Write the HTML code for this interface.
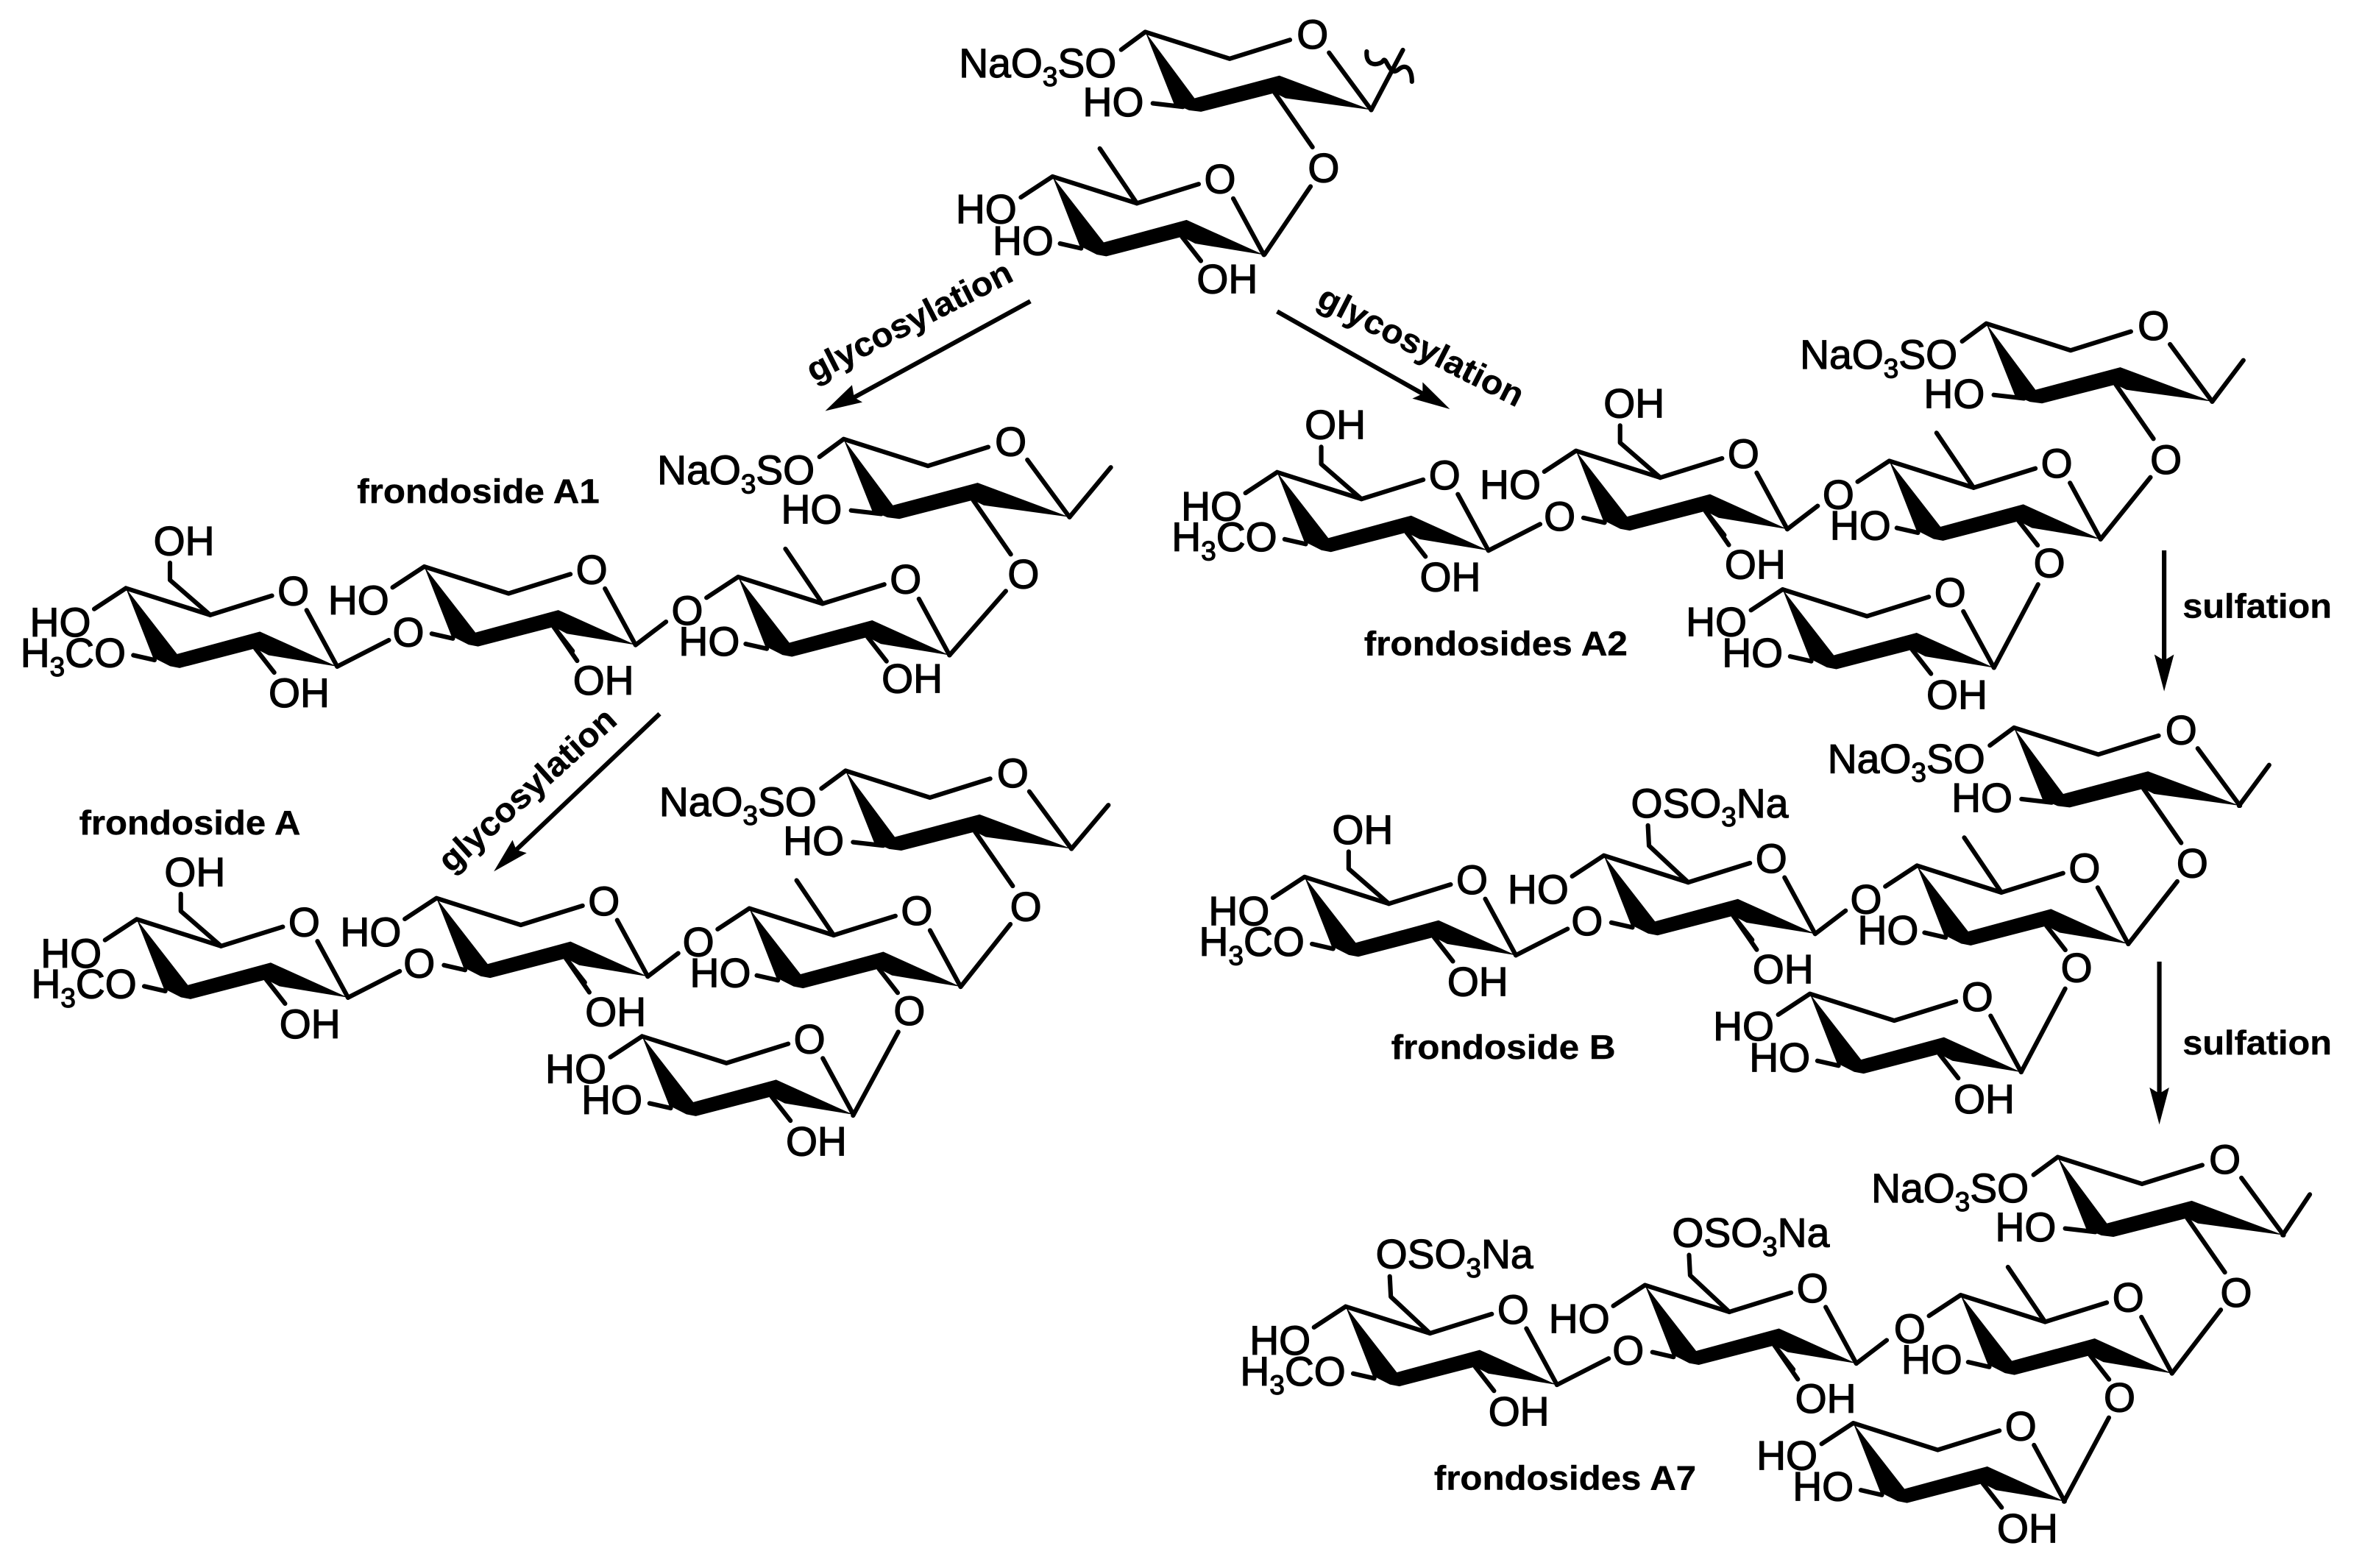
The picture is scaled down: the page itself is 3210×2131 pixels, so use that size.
<!DOCTYPE html>
<html><head><meta charset="utf-8"><style>
html,body{margin:0;padding:0;background:#fff}
svg{display:block}
text{font-family:"Liberation Sans",sans-serif;font-size:27px;fill:#000;stroke:#000;stroke-width:.6px}
.m{text-anchor:middle}.e{text-anchor:end}
.b{font-weight:bold;font-size:22.5px;stroke-width:.2px}
.l{fill:none;stroke:#000;stroke-width:3;stroke-linecap:round;stroke-linejoin:round}
.a{fill:none;stroke:#000;stroke-width:3}
.s{font-size:18px}
</style></head><body>
<svg xmlns="http://www.w3.org/2000/svg" width="3210" height="2131" viewBox="0 0 1568 1041">
<rect width="1568" height="1041" fill="#fff"/>
<defs>
<g id="L"><path d="M0,0L32.7,44 89,29 150,51.8 93,44 86,40.5 37,53 29,52 19,47.7Z"/><path class="l" d="M0,0L56,17.8 96,5.3M122,13.8L150,51.8M0,0L-16,11.8M5,47.4L25,49.7M86,40.5L111,76.5"/></g>
<g id="S"><path d="M0,0L34,43.7 89,28.8 140.3,52 94.7,44.5 86,40 35.7,53 29.4,51.8 18,46Z"/><path class="l" d="M0,0L56,17.8 97,5M120,14.6L140.3,52M0,0L-21,13.8M5,44.5L19,47.7M86,40L98.5,56"/></g>
</defs>

<!-- Top -->
<g transform="translate(760.3,21.2)"><use href="#L"/><path class="l" d="M150,51.8L171,12M147,13C146,24 156,22 158,19S162,30 168,25 177,26 177,33"/>
<text class="e" x="-19.2" y="30">NaO<tspan class="s" dy="6">3</tspan><tspan dy="-6">SO</tspan></text><text class="e" x="-1" y="56">HO</text><text class="m" x="111" y="11">O</text><text class="m" x="118.4" y="99.7">O</text></g>
<path class="l" d="M870,123.8L839.4,169"/>
<g transform="translate(698.7,117.2)"><use href="#S"/><path class="l" d="M56,17.8L31.4,-18.6"/><text class="m" x="111.2" y="11">O</text><text class="m" x="-44" y="31">HO</text><text class="m" x="-19.5" y="52">HO</text><text class="m" x="116" y="77.5">OH</text></g>

<!-- Frondoside A1 -->
<g transform="translate(83.5,390.5)"><use href="#S"/><path class="l" d="M56,17.8L29.3,-5.4 29.3,-16.8M140.3,52L174.6,34.5"/><text class="m" x="111.2" y="11.4">O</text><text class="m" x="-43.5" y="32">HO</text><text class="e" x="0" y="52.4">H<tspan class="s" dy="6">3</tspan><tspan dy="-6">CO</tspan></text><text class="m" x="38.6" y="-22">OH</text><text class="m" x="115" y="79">OH</text><text class="m" x="187.6" y="38.6">O</text></g>
<g transform="translate(281.6,376.2)"><use href="#S"/><path class="l" d="M140.3,52L160.5,36.6M86,40L101.5,62.5"/><text class="m" x="111.2" y="11.4">O</text><text class="m" x="-43.6" y="31.8">HO</text><text class="m" x="119" y="85">OH</text></g>
<g transform="translate(490,383)"><use href="#S"/><path class="l" d="M56,17.8L31.4,-18.6"/><text class="m" x="111.2" y="11">O</text><text class="m" x="-33.8" y="31.7">O</text><text class="m" x="-19.2" y="52.3">HO</text><text class="m" x="115.5" y="77">OH</text></g>
<g transform="translate(560,291.5)"><use href="#L"/><path class="l" d="M150,51.8L177.4,18.8"/><text class="e" x="-19.2" y="30">NaO<tspan class="s" dy="6">3</tspan><tspan dy="-6">SO</tspan></text><text class="e" x="-1" y="56">HO</text><text class="m" x="111" y="11">O</text><text class="m" x="119.4" y="99">O</text></g>
<path class="l" d="M667.7,392.4L630.3,435"/>
<text class="b" x="237" y="334" textLength="161" lengthAdjust="spacingAndGlyphs">frondoside A1</text>

<!-- Frondoside A -->
<g transform="translate(90.7,610.3)"><use href="#S"/><path class="l" d="M56,17.8L29.3,-5.4 29.3,-16.8M140.3,52L174.6,34.5"/><text class="m" x="111.2" y="11.4">O</text><text class="m" x="-43.5" y="32">HO</text><text class="e" x="0" y="52.4">H<tspan class="s" dy="6">3</tspan><tspan dy="-6">CO</tspan></text><text class="m" x="38.6" y="-22">OH</text><text class="m" x="115" y="79">OH</text><text class="m" x="187.6" y="38.6">O</text></g>
<g transform="translate(289.7,596.3)"><use href="#S"/><path class="l" d="M140.3,52L160.5,36.6M86,40L101.5,62.5"/><text class="m" x="111.2" y="11.4">O</text><text class="m" x="-43.6" y="31.8">HO</text><text class="m" x="119" y="85">OH</text></g>
<g transform="translate(497.4,603.1)"><use href="#S"/><path class="l" d="M56,17.8L31.4,-18.6"/><text class="m" x="111.2" y="11">O</text><text class="m" x="-33.8" y="31.7">O</text><text class="m" x="-19.2" y="52.3">HO</text><text class="m" x="106.3" y="77.3">O</text></g>
<g transform="translate(561.3,511.7)"><use href="#L"/><path class="l" d="M150,51.8L174.5,22.8"/><text class="e" x="-19.2" y="30">NaO<tspan class="s" dy="6">3</tspan><tspan dy="-6">SO</tspan></text><text class="e" x="-1" y="56">HO</text><text class="m" x="111" y="11">O</text><text class="m" x="119.7" y="99.6">O</text></g>
<path class="l" d="M670.7,613.6L637.7,655.1M596.3,685.1L566.3,740.6"/>
<g transform="translate(426.2,688)"><use href="#S"/><text class="m" x="111.2" y="11.4">O</text><text class="m" x="-44" y="31">HO</text><text class="m" x="-20" y="51.6">HO</text><text class="m" x="115.7" y="79.3">OH</text></g>
<text class="b" x="52.5" y="554" textLength="147" lengthAdjust="spacingAndGlyphs">frondoside A</text>

<!-- Frondosides A2 -->
<g transform="translate(847.8,313.5)"><use href="#S"/><path class="l" d="M56,17.8L29.3,-5.4 29.3,-16.8M140.3,52L174.6,34.5"/><text class="m" x="111.2" y="11.4">O</text><text class="m" x="-43.5" y="32">HO</text><text class="e" x="0" y="52.4">H<tspan class="s" dy="6">3</tspan><tspan dy="-6">CO</tspan></text><text class="m" x="38.6" y="-22">OH</text><text class="m" x="115" y="79">OH</text><text class="m" x="187.6" y="38.6">O</text></g>
<g transform="translate(1046.2,299.3)"><use href="#S"/><path class="l" d="M56,17.8L29.3,-5.4 29.3,-16.8M140.3,52L160.5,36.6M86,40L101.5,62.5"/><text class="m" x="111.2" y="11.4">O</text><text class="m" x="-43.6" y="31.8">HO</text><text class="m" x="38.6" y="-22">OH</text><text class="m" x="119" y="85">OH</text></g>
<g transform="translate(1254.2,306)"><use href="#S"/><path class="l" d="M56,17.8L31.4,-18.6"/><text class="m" x="111.2" y="11">O</text><text class="m" x="-33.8" y="31.7">O</text><text class="m" x="-19.2" y="52.3">HO</text><text class="m" x="106.3" y="77.3">O</text></g>
<g transform="translate(1318.6,214.8)"><use href="#L"/><path class="l" d="M150,51.8L170.7,24.4"/><text class="e" x="-19.2" y="30">NaO<tspan class="s" dy="6">3</tspan><tspan dy="-6">SO</tspan></text><text class="e" x="-1" y="56">HO</text><text class="m" x="111" y="11">O</text><text class="m" x="119.3" y="99.7">O</text></g>
<path class="l" d="M1427.6,316.9L1394.5,358M1353,388L1323.7,443.3"/>
<g transform="translate(1183.4,391.3)"><use href="#S"/><text class="m" x="111.2" y="11.4">O</text><text class="m" x="-44" y="31">HO</text><text class="m" x="-20" y="51.6">HO</text><text class="m" x="115.7" y="79.3">OH</text></g>
<text class="b" x="905.5" y="435" textLength="175" lengthAdjust="spacingAndGlyphs">frondosides A2</text>

<!-- Frondoside B -->
<g transform="translate(866,582.2)"><use href="#S"/><path class="l" d="M56,17.8L29.3,-5.4 29.3,-16.8M140.3,52L174.6,34.5"/><text class="m" x="111.2" y="11.4">O</text><text class="m" x="-43.5" y="32">HO</text><text class="e" x="0" y="52.4">H<tspan class="s" dy="6">3</tspan><tspan dy="-6">CO</tspan></text><text class="m" x="38.6" y="-22">OH</text><text class="m" x="115" y="79">OH</text><text class="m" x="187.6" y="38.6">O</text></g>
<g transform="translate(1064.7,568)"><use href="#S"/><path class="l" d="M56,17.8L30,-6.5 29.3,-20M140.3,52L160.5,36.6M86,40L101.5,62.5"/><text class="m" x="111.2" y="11.4">O</text><text class="m" x="-43.6" y="31.8">HO</text><text x="18" y="-25.4">OSO<tspan class="s" dy="6">3</tspan><tspan dy="-6">Na</tspan></text><text class="m" x="119" y="85">OH</text></g>
<g transform="translate(1272.6,574.7)"><use href="#S"/><path class="l" d="M56,17.8L31.4,-18.6"/><text class="m" x="111.2" y="11">O</text><text class="m" x="-33.8" y="31.7">O</text><text class="m" x="-19.2" y="52.3">HO</text><text class="m" x="106" y="77.3">O</text></g>
<g transform="translate(1337,483.1)"><use href="#L"/><path class="l" d="M149.4,51.8L169.4,24.8"/><text class="e" x="-19.2" y="30">NaO<tspan class="s" dy="6">3</tspan><tspan dy="-6">SO</tspan></text><text class="e" x="-1" y="56">HO</text><text class="m" x="111" y="11">O</text><text class="m" x="118.4" y="99.4">O</text></g>
<path class="l" d="M1445.4,585.2L1412.9,626.7M1371,656.4L1341.8,711.7"/>
<g transform="translate(1201.5,659.8)"><use href="#S"/><text class="m" x="111.2" y="11.4">O</text><text class="m" x="-44" y="31">HO</text><text class="m" x="-20" y="51.6">HO</text><text class="m" x="115.7" y="79.3">OH</text></g>
<text class="b" x="923.5" y="703" textLength="149" lengthAdjust="spacingAndGlyphs">frondoside B</text>

<!-- Frondosides A7 -->
<g transform="translate(893.3,867.4)"><use href="#S"/><path class="l" d="M56,17.8L30,-6.5 29.3,-20M140.3,52L174.6,34.5"/><text class="m" x="111.2" y="11.4">O</text><text class="m" x="-43.5" y="32">HO</text><text class="e" x="0" y="52.4">H<tspan class="s" dy="6">3</tspan><tspan dy="-6">CO</tspan></text><text x="20" y="-25.4">OSO<tspan class="s" dy="6">3</tspan><tspan dy="-6">Na</tspan></text><text class="m" x="115" y="79">OH</text><text class="m" x="187.6" y="38.6">O</text></g>
<g transform="translate(1092,853.2)"><use href="#S"/><path class="l" d="M56,17.8L30,-6.5 29.3,-20M140.3,52L160.5,36.6M86,40L101.5,62.5"/><text class="m" x="111.2" y="11.4">O</text><text class="m" x="-43.6" y="31.8">HO</text><text x="18" y="-25.4">OSO<tspan class="s" dy="6">3</tspan><tspan dy="-6">Na</tspan></text><text class="m" x="120" y="84.8">OH</text></g>
<g transform="translate(1301.6,859.8)"><use href="#S"/><path class="l" d="M56,17.8L31.4,-18.6"/><text class="m" x="111.2" y="11">O</text><text class="m" x="-33.8" y="31.7">O</text><text class="m" x="-19.2" y="52.3">HO</text><text class="m" x="105.5" y="77.3">O</text></g>
<g transform="translate(1366,768.2)"><use href="#L"/><path class="l" d="M149.4,51.8L167.4,24.8"/><text class="e" x="-19.2" y="30">NaO<tspan class="s" dy="6">3</tspan><tspan dy="-6">SO</tspan></text><text class="e" x="-1" y="56">HO</text><text class="m" x="111" y="11">O</text><text class="m" x="118.5" y="99.5">O</text></g>
<path class="l" d="M1474.3,869.6L1441.9,911.8M1400,941.2L1370.2,996.9"/>
<g transform="translate(1230.3,944.8)"><use href="#S"/><text class="m" x="111.2" y="11.4">O</text><text class="m" x="-44" y="31">HO</text><text class="m" x="-20" y="51.6">HO</text><text class="m" x="115.7" y="79.3">OH</text></g>
<text class="b" x="952" y="989" textLength="174" lengthAdjust="spacingAndGlyphs">frondosides A7</text>

<!-- Arrows -->
<path class="a" d="M684,200L567,263.8M847.8,206.8L944.4,261.4M437.9,473.9L342.7,564.2M1436.7,365.4V440M1433.5,638.4V728"/>
<path d="M547.8,272.8L565.6,255.6 567,263.8 572.5,267Z"/>
<path d="M962.5,271.6L944.4,253.7 944.4,261.4 937.6,264.6Z"/>
<path d="M327.8,578.6L340.2,557.7 342.7,564.2 349.6,566.3Z"/>
<path d="M1436.7,459L1430.2,434.5 1436.7,438.5 1443.2,434.5Z"/>
<path d="M1433.5,746.6L1427,722 1433.5,726 1440,722Z"/>
<text class="b m" transform="translate(607,220) rotate(-27)" textLength="150" lengthAdjust="spacingAndGlyphs">glycosylation</text>
<text class="b m" transform="translate(940,236.5) rotate(27)" textLength="150" lengthAdjust="spacingAndGlyphs">glycosylation</text>
<text class="b m" transform="translate(355,530) rotate(-42)" textLength="150" lengthAdjust="spacingAndGlyphs">glycosylation</text>
<text class="b" x="1449" y="410" textLength="99" lengthAdjust="spacingAndGlyphs">sulfation</text>
<text class="b" x="1449" y="700" textLength="99" lengthAdjust="spacingAndGlyphs">sulfation</text>
</svg>
</body></html>
